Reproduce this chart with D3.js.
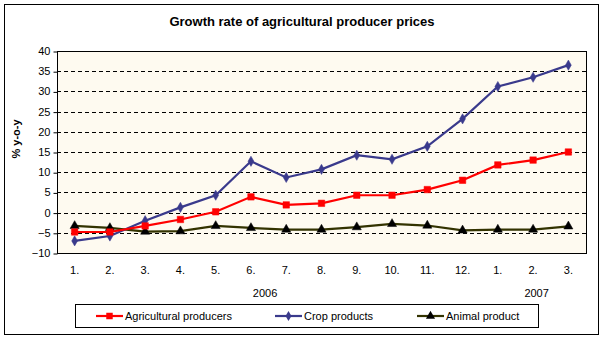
<!DOCTYPE html>
<html>
<head>
<meta charset="utf-8">
<script src="https://cdn.jsdelivr.net/npm/d3@7"></script>
<style>
  body { margin: 0; background: #fff; }
  text { font-family: Arial, "Liberation Sans", sans-serif; }
</style>
</head>
<body>
<div id="chart"></div>
<script>
// data
var months = ["1.", "2.", "3.", "4.", "5.", "6.", "7.", "8.", "9.", "10.", "11.", "12.", "1.", "2.", "3."];
var agri   = [-4.8, -4.8, -3.3, -1.7, 0.2, 3.9, 1.9, 2.3, 4.3, 4.3, 5.7, 8.0, 11.8, 13.0, 15.0];
var crop   = [-7.0, -5.8, -2.0, 1.3, 4.3, 12.7, 8.7, 10.7, 14.2, 13.2, 16.4, 23.2, 31.2, 33.5, 36.5];
var animal = [-3.3, -3.8, -4.7, -4.6, -3.3, -3.8, -4.2, -4.2, -3.6, -2.8, -3.2, -4.4, -4.2, -4.2, -3.4];
var yTicks = [-10, -5, 0, 5, 10, 15, 20, 25, 30, 35, 40];
var years = [{label: "2006", at: 5.4}, {label: "2007", at: 13.1}];

var W = 604, H = 339;
var plot = {left: 57, right: 586, top: 51, bottom: 253};

var svg = d3.select("#chart").append("svg")
    .attr("width", W)
    .attr("height", H);

// outer frame
svg.append("rect")
  .attr("x", 4.5).attr("y", 4.5)
  .attr("width", 594).attr("height", 330)
  .style("fill", "#fff")
  .style("stroke", "#000");

svg.append("text")
  .attr("x", 302).attr("y", 26)
  .attr("text-anchor", "middle")
  .style("font-size", "13px")
  .style("font-weight", "bold")
  .text("Growth rate of agricultural producer prices");

var x = d3.scaleBand()
  .domain(d3.range(months.length))
  .range([plot.left, plot.right]);

var y = d3.scaleLinear()
  .domain([-10, 40])
  .range([plot.bottom, plot.top]);

var cx = function(i){ return x(i) + x.bandwidth()/2; };
// fractional category position (for the year labels)
var posAt = function(a){ return plot.left + x.step() * (a + 0.5); };

svg.append("rect")
  .attr("x", plot.left).attr("y", plot.top)
  .attr("width", plot.right - plot.left)
  .attr("height", plot.bottom - plot.top)
  .style("fill", "#fefaf0");

// dashed grid
svg.append("g").selectAll("line")
  .data(yTicks.filter(function(d){ return d > -10 && d < 40; }))
  .enter().append("line")
  .attr("x1", plot.left).attr("x2", plot.right)
  .attr("y1", function(d){ return Math.round(y(d)) + 0.5; })
  .attr("y2", function(d){ return Math.round(y(d)) + 0.5; })
  .style("stroke", "#000")
  .style("stroke-dasharray", "4,3");

svg.append("rect")
  .attr("x", plot.left + 0.5).attr("y", plot.top + 0.5)
  .attr("width", plot.right - plot.left)
  .attr("height", plot.bottom - plot.top)
  .style("fill", "none")
  .style("stroke", "#000");

var yAxis = svg.append("g")
  .attr("transform", "translate(" + (plot.left + 0.5) + ",0)")
  .call(d3.axisLeft(y).tickValues(yTicks).tickSize(4).tickPadding(3));
yAxis.select(".domain").remove();
yAxis.selectAll("line").attr("transform", "translate(0,0.5)").style("stroke", "#000");
yAxis.selectAll("text")
  .style("font-family", "Arial, 'Liberation Sans', sans-serif")
  .style("font-size", "11px")
  .style("fill", "#000");

svg.append("g").selectAll("text")
  .data(months)
  .enter().append("text")
  .attr("x", function(d, i){ return cx(i); })
  .attr("y", 274)
  .attr("text-anchor", "middle")
  .style("font-size", "11px")
  .text(function(d){ return d; });

svg.append("g").selectAll("text")
  .data(years)
  .enter().append("text")
  .attr("x", function(d){ return posAt(d.at); })
  .attr("y", 297)
  .attr("text-anchor", "middle")
  .style("font-size", "11px")
  .text(function(d){ return d.label; });

svg.append("text")
  .attr("transform", "translate(20,139) rotate(-90)")
  .attr("text-anchor", "middle")
  .style("font-size", "11px")
  .style("font-weight", "bold")
  .text("% y-o-y");

var line = d3.line()
  .x(function(d, i){ return cx(i); })
  .y(function(d){ return y(d); });

var series = [
  {name: "Agricultural producers", values: agri, color: "#ff0000", marker: "square", mfill: "#ff0000"},
  {name: "Crop products", values: crop, color: "#3a3a8c", marker: "diamond", mfill: "#3a3a8c"},
  {name: "Animal product", values: animal, color: "#333300", marker: "triangle", mfill: "#000"}
];

var sym = {square: d3.symbolSquare, diamond: d3.symbolDiamond, triangle: d3.symbolTriangle};
var symSize = {square: 42, diamond: 30, triangle: 36};

// draw animal first so crop and agri sit on top
[series[2], series[1], series[0]].forEach(function(s){
  svg.append("path")
    .datum(s.values)
    .attr("d", line)
    .style("fill", "none")
    .style("stroke", s.color)
    .style("stroke-width", 2.2);
  svg.append("g").selectAll("path")
    .data(s.values)
    .enter().append("path")
    .attr("transform", function(d, i){ return "translate(" + cx(i) + "," + y(d) + ")"; })
    .attr("d", d3.symbol().type(sym[s.marker]).size(symSize[s.marker]))
    .style("fill", s.mfill)
    .style("stroke", s.mfill)
    .style("stroke-width", 0.5);
});

// legend
var lg = svg.append("g");
lg.append("rect")
  .attr("x", 75.5).attr("y", 304.5)
  .attr("width", 463).attr("height", 23)
  .style("fill", "#fff")
  .style("stroke", "#000");

var legendX = [96, 275, 417];
series.forEach(function(s, i){
  var g = lg.append("g").attr("transform", "translate(" + legendX[i] + ",316)");
  g.append("line")
    .attr("x1", 0).attr("x2", 27)
    .style("stroke", s.color)
    .style("stroke-width", 2.2);
  g.append("path")
    .attr("transform", "translate(13.5,0)")
    .attr("d", d3.symbol().type(sym[s.marker]).size(symSize[s.marker]))
    .style("fill", s.mfill);
  g.append("text")
    .attr("x", 29).attr("y", 4)
    .style("font-size", "11px")
    .text(s.name);
});
</script>
</body>
</html>
